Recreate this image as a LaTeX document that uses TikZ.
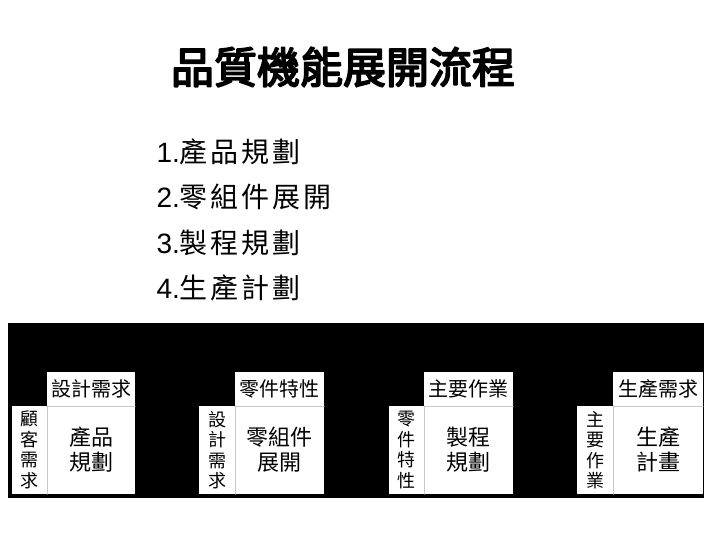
\documentclass[tikz,border=0pt]{standalone}
\usepackage{fontspec}
\setmainfont{Liberation Sans}
\newfontfamily\cjk{Noto Sans CJK TC}
\newfontfamily\cjkwide{Noto Sans CJK TC}[LetterSpace=10]
\newfontfamily\cjktitle{Noto Sans CJK TC}[FakeBold=4]
\usetikzlibrary{positioning}
\definecolor{qfdInk}{HTML}{000000}
\definecolor{qfdRule}{HTML}{C8C8C8}

\begin{document}
\begin{tikzpicture}[x=1pt,y=-1pt,line cap=round,line join=round]
\path[fill=white] (0,0) rectangle (720,540);
\tikzset{cell/.style={fill=white,inner sep=0pt,align=center,text=qfdInk},headcell/.style={cell,minimum height=34pt,font=\cjk\fontsize{20}{22}\selectfont},maincell/.style={cell,minimum height=88pt,font=\cjk\fontsize{22}{25}\selectfont},sidecell/.style={cell,minimum height=88pt,font=\cjk\fontsize{18}{20.5}\selectfont},sepline/.style={draw=qfdRule,line width=0.8pt},listitem/.style={anchor=west,font=\fontsize{28}{30}\selectfont}}
\node[font=\cjktitle\fontsize{43}{46}\selectfont] (title) at (343,67) {品質機能展開流程};
\node[listitem] (step1) at (153,152) {1.{\cjkwide 產品規劃}};
\node[listitem] (step2) at (153,197) {2.{\cjkwide 零組件展開}};
\node[listitem] (step3) at (153,243) {3.{\cjkwide 製程規劃}};
\node[listitem] (step4) at (153,288) {4.{\cjkwide 生產計劃}};
\path[fill=black] (8,323) rectangle (704,498);
% product planning
\node[sidecell,minimum width=35pt] (planside) at (29.5,450) {顧\\客\\需\\求};
\node[headcell,minimum width=88pt] (planhead) at (91,389) {設計需求};
\node[maincell,minimum width=88pt] (plan) at (91,450) {產品\\規劃};
\draw[sepline] (planhead.south west) -- (planhead.south east);
\draw[sepline] (planside.north east) -- (planside.south east);
% part deployment
\node[sidecell,minimum width=36pt] (partside) at (217,450) {設\\計\\需\\求};
\node[headcell,minimum width=89pt] (parthead) at (279.5,389) {零件特性};
\node[maincell,minimum width=89pt] (part) at (279.5,450) {零組件\\展開};
\draw[sepline] (parthead.south west) -- (parthead.south east);
\draw[sepline] (partside.north east) -- (partside.south east);
% process planning
\node[sidecell,minimum width=35pt] (procside) at (406.5,450) {零\\件\\特\\性};
\node[headcell,minimum width=89pt] (prochead) at (468.5,389) {主要作業};
\node[maincell,minimum width=89pt] (proc) at (468.5,450) {製程\\規劃};
\draw[sepline] (prochead.south west) -- (prochead.south east);
\draw[sepline] (procside.north east) -- (procside.south east);
% production planning
\node[sidecell,minimum width=36pt] (prodside) at (595,450) {主\\要\\作\\業};
\node[headcell,minimum width=90pt] (prodhead) at (658,389) {生產需求};
\node[maincell,minimum width=90pt] (prod) at (658,450) {生產\\計畫};
\draw[sepline] (prodhead.south west) -- (prodhead.south east);
\draw[sepline] (prodside.north east) -- (prodside.south east);
\end{tikzpicture}
\end{document}
